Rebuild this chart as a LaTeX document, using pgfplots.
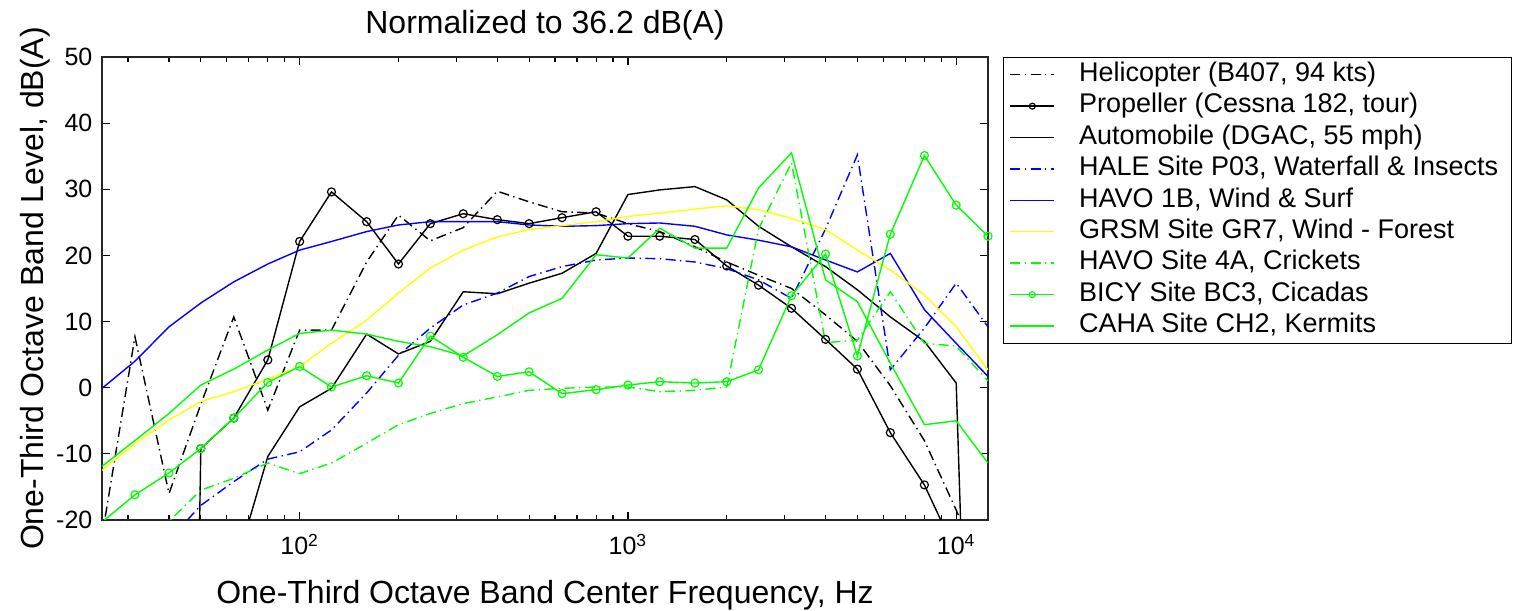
\documentclass[border=0pt]{standalone}
\usepackage{fontspec}
\setmainfont{Liberation Sans}
\usepackage{pgfplots}
\pgfplotsset{compat=1.18}
\definecolor{mgreen}{RGB}{0,255,0}
\definecolor{mblue}{RGB}{0,0,255}
\definecolor{myellow}{RGB}{255,255,0}
\tikzset{dashdot/.style={dash pattern=on 5pt off 2.2pt on 0.7pt off 2.2pt}}
\begin{document}
\begin{tikzpicture}
\begin{axis}[
  xmode=log, scale only axis, width=443pt, height=231.5pt,
  xmin=25, xmax=12500, ymin=-20, ymax=50,
  xtick={100,1000,10000},
  xticklabels={10\textsuperscript{2},10\textsuperscript{3},10\textsuperscript{4}},
  minor xtick={30,40,50,60,70,80,90,200,300,400,500,600,700,800,900,2000,3000,4000,5000,6000,7000,8000,9000},
  ytick={-20,-10,0,10,20,30,40,50},
  yticklabels={-20,-10,0,10,20,30,40,50},
  tick align=inside, major tick length=4pt, minor tick length=2.5pt,
  tick style={black, line width=0.6pt},
  axis line style={line width=0.8pt, black!85},
  tick label style={font=\fontsize{12.5}{14}\selectfont},
  yticklabel style={xshift=-1.3pt},
  xticklabel style={yshift=-3.5pt},
  title={Normalized to 36.2 dB(A)},
  title style={font=\fontsize{16}{19}\selectfont, at={(axis description cs:0.5,1.068)}, anchor=center, yshift=-6pt},
  xlabel={One-Third Octave Band Center Frequency, Hz},
  xlabel style={font=\fontsize{16}{19}\selectfont, at={(axis description cs:0.5,-0.162)}, anchor=center},
  ylabel={One-Third Octave Band Level, dB(A)},
  ylabel style={font=\fontsize{16}{19}\selectfont, at={(axis description cs:-0.0756,0.5)}, anchor=center},
  legend style={at={(axis description cs:1,1)}, anchor=north west, xshift=7.5pt,
    draw=black, line width=0.6pt, fill=white, inner xsep=3pt, inner ysep=1pt,
    font=\fontsize{13.5}{15}\selectfont,
    nodes={inner xsep=3.5pt, inner ysep=1pt, text height=10pt, text depth=3.2pt},
    row sep=0.5pt},
  legend cell align=left,
  legend image code/.code={\draw[mark repeat=2,mark phase=2,#1] plot coordinates {(0pt,0pt) (11pt,0pt) (22pt,0pt)}; \path (30.5pt,0pt);},
  legend image post style={mark size=1.5pt},
]
% Helicopter
\addplot[black, line width=0.7pt, dashdot] coordinates {
(25,-22.5) (31.5,7.7) (40,-16) (50,-2.5) (63,10.7) (80,-3.4) (100,8.7) (125,8.7) (160,19) (200,26.1)
(250,22.2) (315,24.2) (400,29.7) (500,28.1) (630,26.6) (800,26.4) (1000,24.8) (1250,23.6) (1600,21.3)
(2000,19.0) (2500,17.0) (3150,15.0) (4000,11.0) (5000,7.0) (6300,0.3) (8000,-8) (10000,-18.5) (12500,-30)};
% Propeller
\addplot[black, line width=0.7pt, mark=o, mark size=2pt, mark options={solid, line width=0.6pt}] coordinates {
(40,-300) (50,-9.2) (63,-4.6) (80,4.2) (100,22.1) (125,29.6) (160,25.1) (200,18.7) (250,24.8) (315,26.3)
(400,25.4) (500,24.8) (630,25.7) (800,26.6) (1000,22.9) (1250,22.9) (1600,22.4) (2000,18.4) (2500,15.5)
(3150,12.0) (4000,7.3) (5000,2.8) (6300,-6.8) (8000,-14.7) (10000,-25) (12500,-35)};
% Automobile
\addplot[black, line width=0.7pt] coordinates {
(50,-45) (63,-28) (80,-10.4) (100,-2.9) (125,-0.1) (160,8.1) (200,5.1) (250,7.0) (315,14.5) (400,14.2)
(500,15.8) (630,17.3) (800,20.3) (1000,29.2) (1250,29.9) (1600,30.4) (2000,28.4) (2500,24.4) (3150,21.3)
(4000,18.3) (5000,14.8) (6300,10.7) (8000,7.0) (10000,0.7) (12500,-150)};
% HALE P03
\addplot[mblue, line width=0.7pt, dashdot] coordinates {
(25,-33) (31.5,-28) (40,-23) (50,-17.8) (63,-14.2) (80,-10.8) (100,-9.7) (125,-6.4) (160,-0.8) (200,4.9)
(250,9.0) (315,12.5) (400,14.3) (500,16.8) (630,18.3) (800,19.3) (1000,19.6) (1250,19.5) (1600,19.0)
(2000,18.0) (2500,16.3) (3150,13.5) (4000,24) (5000,35.2) (6300,2.7) (8000,9) (10000,15.8) (12500,9.2)};
% HAVO 1B
\addplot[mblue, line width=0.7pt] coordinates {
(25,-0.1) (31.5,4.0) (40,9.2) (50,12.8) (63,16.0) (80,18.7) (100,20.8) (125,22.1) (160,23.6) (200,24.6)
(250,25.1) (315,25.1) (400,25.1) (500,24.6) (630,24.4) (800,24.5) (1000,24.8) (1250,24.9) (1600,24.4)
(2000,23.1) (2500,22.3) (3150,21.3) (4000,19.3) (5000,17.5) (6300,20.3) (8000,11.8) (10000,6.7) (12500,1.7)};
% GRSM GR7
\addplot[myellow, line width=0.7pt] coordinates {
(25,-12.5) (31.5,-8.5) (40,-4.9) (50,-2.1) (63,-0.6) (80,1.3) (100,3.2) (125,6.7) (160,10.2) (200,14.3)
(250,18.1) (315,20.8) (400,22.8) (500,23.9) (630,24.5) (800,25.1) (1000,25.9) (1250,26.4) (1600,27.0)
(2000,27.5) (2500,26.9) (3150,25.6) (4000,23.9) (5000,20.8) (6300,17.8) (8000,14.0) (10000,9.2) (12500,2.7)};
% HAVO 4A
\addplot[mgreen, line width=0.7pt, dashdot] coordinates {
(25,-30) (31.5,-25) (40,-20.2) (50,-15.5) (63,-13.7) (80,-11.4) (100,-13.0) (125,-11.4) (160,-8.4) (200,-5.6)
(250,-3.9) (315,-2.4) (400,-1.4) (500,-0.4) (630,-0.1) (800,0.1) (1000,0.1) (1250,-0.6) (1600,-0.4)
(2000,0.1) (2500,24) (3150,34) (4000,6.8) (5000,7.2) (6300,14.5) (8000,6.7) (10000,6.3) (12500,1)};
% BICY BC3
\addplot[mgreen, line width=0.7pt, mark=o, mark size=2pt, mark options={solid, line width=0.6pt}] coordinates {
(25,-20.3) (31.5,-16.2) (40,-12.9) (50,-9.2) (63,-4.6) (80,0.8) (100,3.2) (125,0.1) (160,1.8) (200,0.7)
(250,7.8) (315,4.6) (400,1.7) (500,2.4) (630,-0.9) (800,-0.3) (1000,0.4) (1250,0.9) (1600,0.7)
(2000,0.9) (2500,2.7) (3150,13.9) (4000,20.2) (5000,4.8) (6300,23.2) (8000,35.1) (10000,27.6) (12500,22.9)};
% CAHA CH2
\addplot[mgreen, line width=0.7pt] coordinates {
(25,-11.9) (31.5,-8.0) (40,-3.9) (50,0.4) (63,2.8) (80,5.7) (100,8.2) (125,8.7) (160,8.1) (200,7.0)
(250,6.2) (315,4.8) (400,8.0) (500,11.3) (630,13.5) (800,20.1) (1000,19.6) (1250,24.1) (1600,21.1)
(2000,21.1) (2500,30.2) (3150,35.5) (4000,16.3) (5000,13.0) (6300,3.7) (8000,-5.6) (10000,-5.0) (12500,-11.4)};
\legend{Helicopter (B407{,} 94 kts), Propeller (Cessna 182{,} tour), Automobile (DGAC{,} 55 mph),
  HALE Site P03{,} Waterfall \& Insects, HAVO 1B{,} Wind \& Surf, GRSM Site GR7{,} Wind - Forest,
  HAVO Site 4A{,} Crickets, BICY Site BC3{,} Cicadas, CAHA Site CH2{,} Kermits}
\coordinate (SW) at (rel axis cs:0,0);
\coordinate (NE) at (rel axis cs:1,1);
\end{axis}
\pgfresetboundingbox
\path ([xshift=-51pt,yshift=-45.5pt]SW) rectangle ([xshift=262.5pt,yshift=28.5pt]NE);
\end{tikzpicture}
\end{document}
